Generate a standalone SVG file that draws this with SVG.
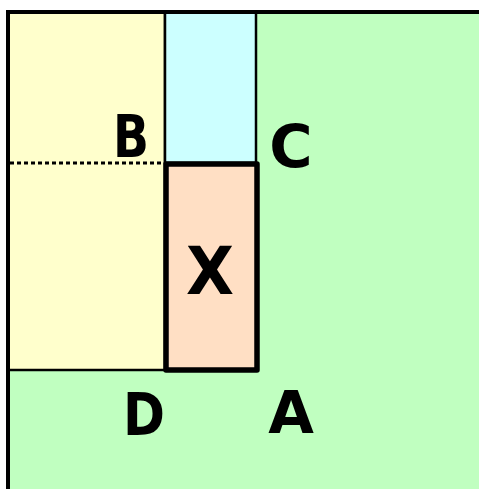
<svg xmlns="http://www.w3.org/2000/svg" width="479" height="489" viewBox="0 0 479 489">
<style>
.lbl{font-family:"DejaVu Sans",sans-serif;font-weight:bold;font-size:59px;fill:#000;text-anchor:middle}
.thin{stroke:#000;stroke-width:2.5}
</style>
<rect width="479" height="489" fill="#fff"/>
<g id="outer"><rect x="8" y="12" width="500" height="500" fill="#C0FFC0" stroke="#000" stroke-width="4"/></g>
<g id="yellow"><rect x="8" y="12" width="157" height="358" fill="#FFFFCC" class="thin"/></g>
<g id="cyan"><rect x="165" y="12" width="91" height="151" fill="#CCFFFF" class="thin"/></g>
<g id="connectors"><line x1="10" y1="163" x2="163" y2="163" stroke="#000" stroke-width="3" stroke-dasharray="4 3"/></g>
<g id="outer-top"><line x1="6" y1="12" x2="479" y2="12" stroke="#000" stroke-width="4"/><line x1="8" y1="10" x2="8" y2="489" stroke="#000" stroke-width="4"/></g>
<g id="X"><rect x="166" y="164" width="91" height="206" fill="#FFDFC4" stroke="#000" stroke-width="5.5" stroke-linejoin="round"/>
<text x="210" y="294" class="lbl" style="font-size:66px" textLength="48" lengthAdjust="spacingAndGlyphs">X</text></g>
<g id="B"><text x="131" y="157" class="lbl" textLength="36" lengthAdjust="spacingAndGlyphs">B</text></g>
<g id="C"><text x="291" y="167" class="lbl">C</text></g>
<g id="D"><text x="144" y="435" class="lbl" textLength="42" lengthAdjust="spacingAndGlyphs">D</text></g>
<g id="A"><text x="291" y="433" class="lbl">A</text></g>
</svg>
